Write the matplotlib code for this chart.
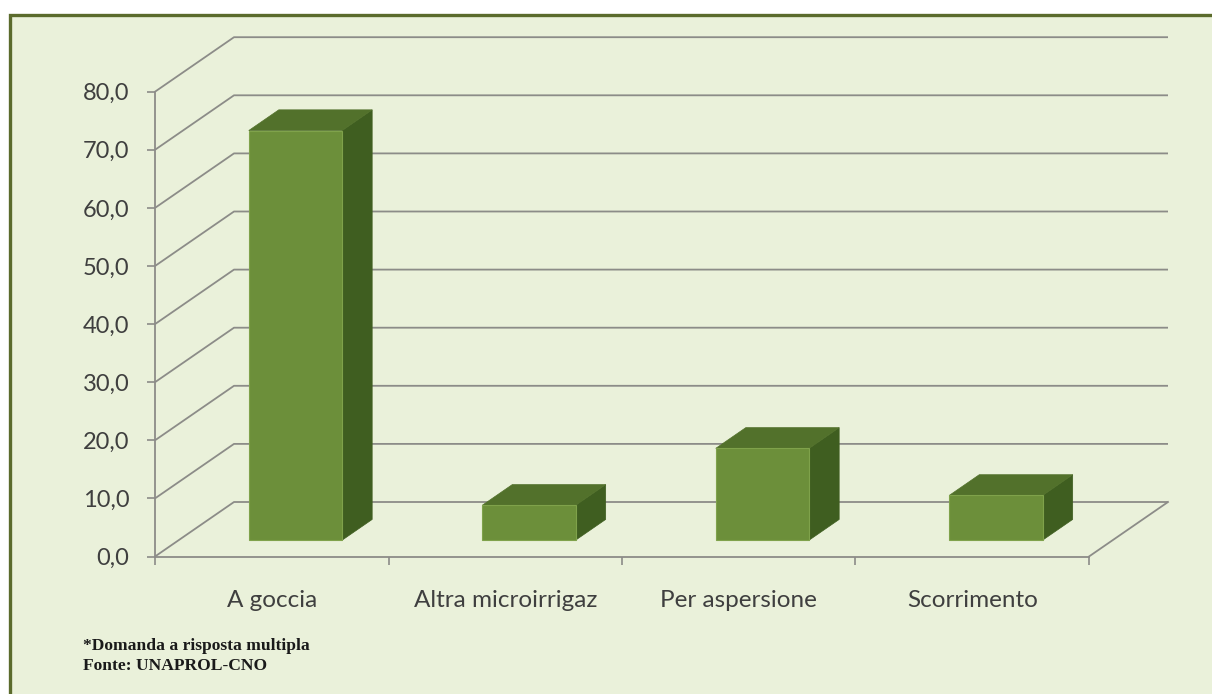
import matplotlib
matplotlib.use("Agg")
import matplotlib.pyplot as plt
from matplotlib.patches import Polygon, Rectangle
from matplotlib.ticker import FixedLocator, FuncFormatter, NullFormatter

# Data
categories = ["A goccia", "Altra microirrigaz", "Per aspersione", "Scorrimento"]
values = [70.5, 6.0, 15.8, 7.7]
y_ticks = [0, 10, 20, 30, 40, 50, 60, 70, 80]
notes = ["*Domanda a risposta multipla", "Fonte: UNAPROL-CNO"]

# Styling
BG = "#EAF1DA"
FRAME = "#5B6B2C"
GRID = "#8C8C88"
FRONT = "#6C8F3A"
TOP = "#52712B"
SIDE = "#3F5E20"
TEXT = "#3F3F3F"

W, H, DPI = 1212, 694, 100
fig = plt.figure(figsize=(W / DPI, H / DPI), dpi=DPI, facecolor="white")

# framed panel
fig.patches.append(Rectangle((10 / W, -0.1), 1.2, 1.1 - 15 / H, transform=fig.transFigure,
                             facecolor=BG, edgecolor=FRAME, linewidth=2.4, zorder=-5))

ax = fig.add_axes([0, 0, 1, 1])
ax.set_facecolor("none")
ax.set_zorder(1)

# pixel geometry -> data units
cat_px = 233.5          # width of one category on the floor front edge
val_px = 5.81           # pixels per value unit
x0_px, y0_px = 155, 556.5
ax.set_xlim(-x0_px / cat_px, (W - x0_px) / cat_px)
ax.set_ylim(-(H - y0_px) / val_px, y0_px / val_px)

# oblique depth offset (full depth of the floor)
DX = 79 / cat_px
DY = 54.5 / val_px
n = len(categories)
ymax = y_ticks[-1]

# side wall diagonals and back wall gridlines
for v in y_ticks:
    ax.plot([0, DX, n + DX], [v, v + DY, v + DY], color=GRID, lw=1.3,
            solid_capstyle="butt", zorder=1)
# floor right edge
ax.plot([n, n + DX], [0, DY], color=GRID, lw=1.3, zorder=1)

# 3D columns
d0, d1 = 0.30, 0.68
bw = 0.40
for i, h in enumerate(values):
    xl = i + (1 - bw) / 2 + d0 * DX
    yb = d0 * DY
    ddx = (d1 - d0) * DX
    ddy = (d1 - d0) * DY
    front = Rectangle((xl, yb), bw, h, facecolor=FRONT, edgecolor="#7FA24B",
                      linewidth=0.8, zorder=3)
    top = Polygon([(xl, yb + h), (xl + bw, yb + h), (xl + bw + ddx, yb + h + ddy),
                   (xl + ddx, yb + h + ddy)], closed=True, facecolor=TOP,
                  edgecolor=TOP, linewidth=0.5, zorder=3)
    side = Polygon([(xl + bw, yb), (xl + bw, yb + h), (xl + bw + ddx, yb + h + ddy),
                    (xl + bw + ddx, yb + ddy)], closed=True, facecolor=SIDE,
                   edgecolor=SIDE, linewidth=0.5, zorder=3)
    for p in (side, top, front):
        ax.add_patch(p)

# front axes via spines
for s in ("top", "right"):
    ax.spines[s].set_visible(False)
ax.spines["left"].set_position(("data", 0))
ax.spines["left"].set_bounds(0, ymax)
ax.spines["bottom"].set_position(("data", 0))
ax.spines["bottom"].set_bounds(0, n)
for s in ("left", "bottom"):
    ax.spines[s].set_color(GRID)
    ax.spines[s].set_linewidth(1.3)
    ax.spines[s].set_zorder(2)

ax.yaxis.set_major_locator(FixedLocator(y_ticks))
ax.yaxis.set_major_formatter(FuncFormatter(lambda v, p: f"{v:.1f}".replace(".", ",")))
ax.tick_params(axis="y", direction="out", length=5.5, width=1.2, color=GRID,
               labelsize=17, labelcolor=TEXT, pad=13)

ax.xaxis.set_major_locator(FixedLocator(range(n + 1)))
ax.xaxis.set_major_formatter(NullFormatter())
ax.xaxis.set_minor_locator(FixedLocator([i + 0.5 for i in range(n)]))
ax.xaxis.set_minor_formatter(FuncFormatter(lambda v, p: categories[int(v)]))
ax.tick_params(axis="x", which="major", direction="out", length=5.5, width=1.2, color=GRID)
ax.tick_params(axis="x", which="minor", length=0, labelsize=17.5, labelcolor=TEXT, pad=24)
for lab in ax.get_xticklabels(minor=True) + ax.get_yticklabels():
    lab.set_family("Lato")

# footnote
for k, t in enumerate(notes):
    fig.text(83 / W, 1 - (650 + 20 * k) / H, t, family="Liberation Serif",
             weight="bold", fontsize=12.6, color="#1A1A1A", va="baseline", ha="left")

fig.savefig("out.png", dpi=DPI, facecolor="white")
